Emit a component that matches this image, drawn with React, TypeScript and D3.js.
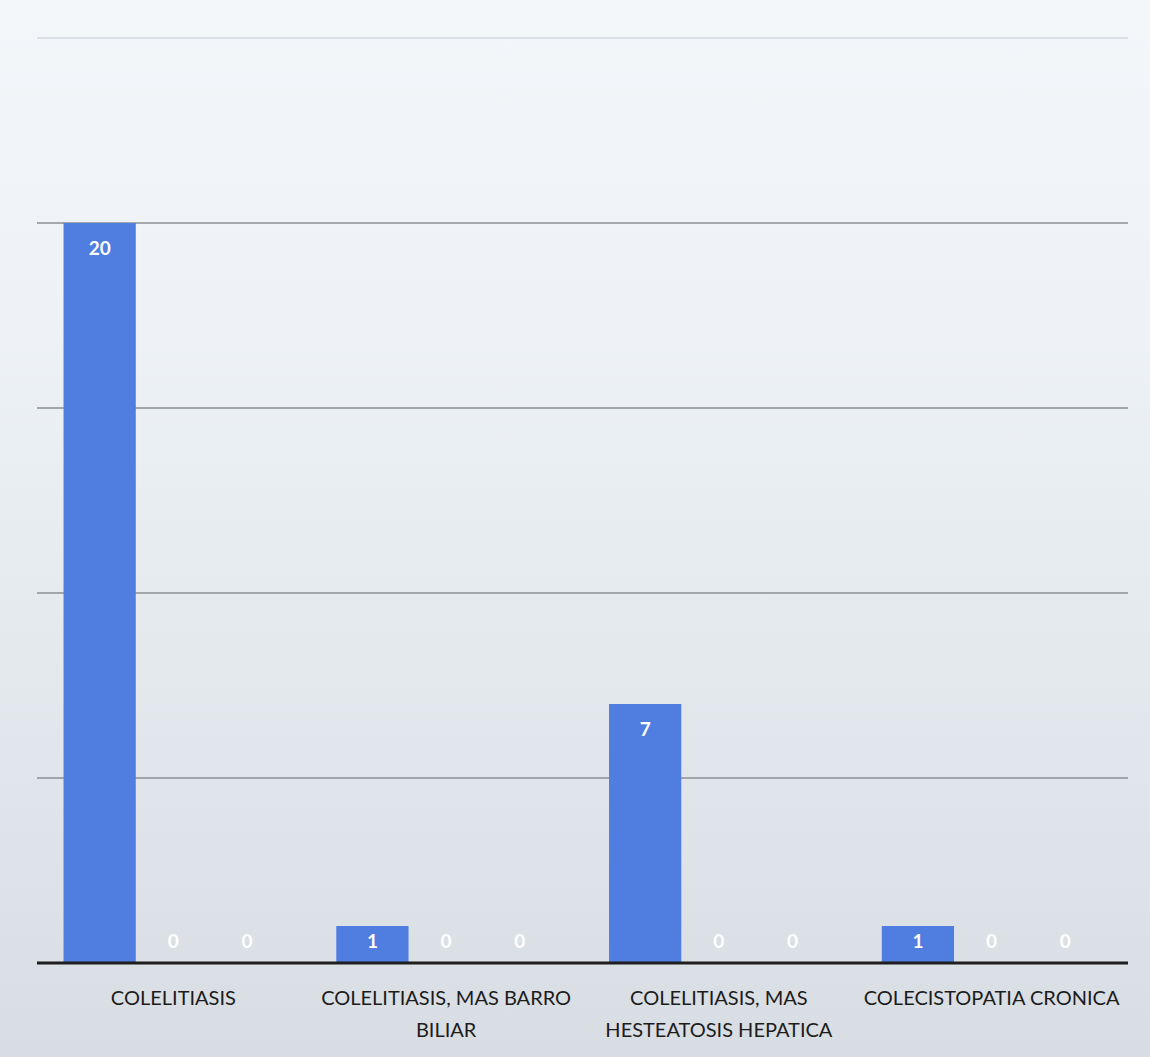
import React, { useEffect } from 'react';
import * as d3 from 'd3';

const categories = [
    ['COLELITIASIS'],
    ['COLELITIASIS, MAS BARRO', 'BILIAR'],
    ['COLELITIASIS, MAS', 'HESTEATOSIS HEPATICA'],
    ['COLECISTOPATIA CRONICA'],
];
const seriesNames = ['s1', 's2', 's3'];
const series1 = [20, 1, 7, 1];
const series2 = [0, 0, 0, 0];
const series3 = [0, 0, 0, 0];
const yTicks = [5, 10, 15, 20];

const W = 1150;
const H = 1057;
const margin = { top: 38, right: 22, bottom: 94, left: 37 };

const App: React.FC = () => {
    useEffect(() => {
        document.body.style.margin = '0';
    }, []);

    const values = [series1, series2, series3];
    const catIdx = categories.map((_, i) => String(i));

    const x0 = d3.scaleBand()
        .domain(catIdx)
        .range([margin.left, W - margin.right])
        .paddingInner(0)
        .paddingOuter(0);

    const x1 = d3.scaleBand()
        .domain(seriesNames)
        .range([0, x0.bandwidth()])
        .paddingInner(0.02)
        .paddingOuter(0.36);

    const y = d3.scaleLinear()
        .domain([0, 25])
        .range([H - margin.bottom, margin.top]);

    const base = y(0);
    const font = 'Lato, "Open Sans", sans-serif';

    return (
        <svg width={W} height={H} style={{ display: 'block' }}>
            <defs>
                <linearGradient id="bg" x1="0" y1="0" x2="0" y2="1">
                    <stop offset="0%" stopColor="#f3f7fa" />
                    <stop offset="30%" stopColor="#eef2f6" />
                    <stop offset="65%" stopColor="#e3e8ed" />
                    <stop offset="100%" stopColor="#d8dde3" />
                </linearGradient>
            </defs>
            <rect x={0} y={0} width={W} height={H} fill="url(#bg)" />

            {/* faint top line */}
            <line x1={margin.left} x2={W - margin.right} y1={y(25)} y2={y(25)}
                stroke="#d2d8de" strokeWidth={1.5} />

            {/* gridlines */}
            {yTicks.map(t => (
                <line key={t} x1={margin.left} x2={W - margin.right} y1={y(t)} y2={y(t)}
                    stroke="#8c8f93" strokeWidth={1.5} />
            ))}

            {/* bars */}
            {catIdx.map((c, ci) => (
                <g key={c} transform={`translate(${x0(c)},0)`}>
                    {seriesNames.map((s, si) => {
                        const v = values[si][ci];
                        const bx = x1(s) as number;
                        const top = y(v);
                        const ly = Math.min(top + 25, base - 22);
                        return (
                            <g key={s}>
                                {v > 0 && (
                                    <rect x={bx} y={top} width={x1.bandwidth()} height={base - top}
                                        fill="#4f7de0" />
                                )}
                                <text x={bx + x1.bandwidth() / 2} y={ly} dy="0.35em"
                                    textAnchor="middle" fill="#ffffff" fontFamily={font}
                                    fontWeight={700} fontSize={19}>
                                    {v}
                                </text>
                            </g>
                        );
                    })}
                </g>
            ))}

            {/* baseline */}
            <line x1={margin.left} x2={W - margin.right} y1={base} y2={base}
                stroke="#1e1e1e" strokeWidth={3} />

            {/* category labels */}
            {categories.map((lines, ci) => (
                <text key={ci} x={(x0(String(ci)) as number) + x0.bandwidth() / 2} y={base + 42}
                    textAnchor="middle" fill="#1c1c1c" fontFamily={font} fontSize={20}>
                    {lines.map((l, li) => (
                        <tspan key={li} x={(x0(String(ci)) as number) + x0.bandwidth() / 2}
                            dy={li === 0 ? 0 : 32}>{l}</tspan>
                    ))}
                </text>
            ))}
        </svg>
    );
};

export default App;
